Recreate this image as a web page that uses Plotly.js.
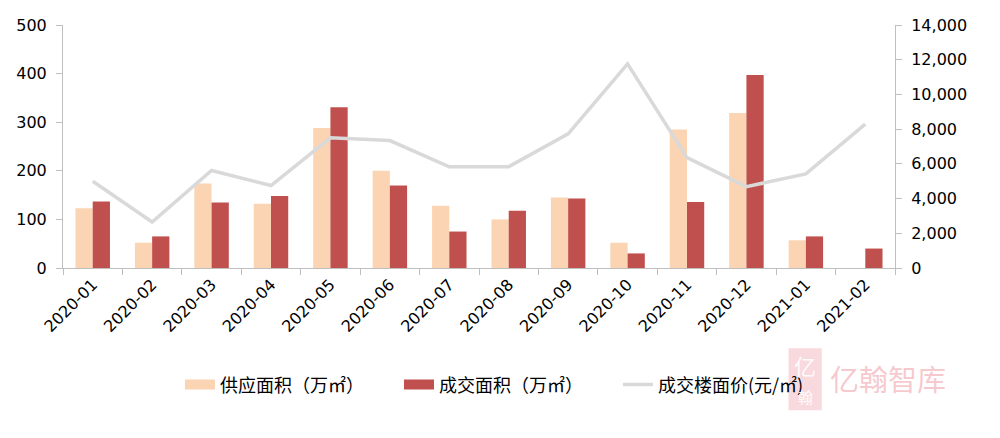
<!DOCTYPE html>
<html><head><meta charset="utf-8">
<script src="https://cdn.plot.ly/plotly-3.0.1.min.js"></script>
<style>html,body{margin:0;padding:0;background:#fff;}#chart{width:1000px;height:438px;}</style>
</head><body><div id="chart"></div>
<script>
const months = ['2020-01','2020-02','2020-03','2020-04','2020-05','2020-06','2020-07','2020-08','2020-09','2020-10','2020-11','2020-12','2021-01','2021-02'];
const supplyArea = [123, 52, 174, 132, 288, 200, 128, 100, 145, 52, 285, 319, 57, null];
const dealArea = [137, 65, 135, 148, 331, 170, 75, 118, 143, 30, 136, 397, 65, 40];
const dealPrice = [5000, 2650, 5620, 4750, 7500, 7340, 5830, 5840, 7730, 11760, 6360, 4690, 5420, 8290];
const leftTicks = [0, 100, 200, 300, 400, 500];
const rightTicks = [0, 2000, 4000, 6000, 8000, 10000, 12000, 14000];
const seriesNames = ['供应面积（万㎡）', '成交面积（万㎡）', '成交楼面价(元/㎡)'];
const supplyColor = '#FBD4B4', dealColor = '#C0504D', priceColor = '#D9D9D9';

const fontFam = 'DejaVu Sans, "Noto Sans CJK SC", sans-serif';
const cjk = '"Noto Sans CJK SC", sans-serif';
const empty = months.map(() => null);

const data = [
  {type:'bar', name:seriesNames[0], x:months, y:supplyArea, marker:{color:supplyColor}, showlegend:false},
  {type:'bar', name:seriesNames[1], x:months, y:dealArea, marker:{color:dealColor}, showlegend:false},
  {type:'scatter', mode:'lines', name:seriesNames[2], x:months, y:dealPrice, yaxis:'y2', line:{color:priceColor, width:3.5}, showlegend:false},
  // legend entries
  {type:'scatter', mode:'lines', name:seriesNames[0], x:months, y:empty, line:{color:supplyColor, width:11}, hoverinfo:'skip'},
  {type:'scatter', mode:'lines', name:seriesNames[1], x:months, y:empty, line:{color:dealColor, width:11}, hoverinfo:'skip'},
  {type:'scatter', mode:'lines', name:seriesNames[2], x:months, y:empty, yaxis:'y2', line:{color:priceColor, width:3.5}, hoverinfo:'skip'}
];

const layout = {
  width:1000, height:438,
  margin:{l:63, r:105, t:25, b:170},
  paper_bgcolor:'#fff', plot_bgcolor:'#fff',
  barmode:'group', bargap:0.42, bargroupgap:0,
  showlegend:true,
  legend:{orientation:'h', x:0.1406, xanchor:'left', y:-0.405, yanchor:'top', bgcolor:'rgba(0,0,0,0)', font:{family:cjk, size:18, color:'#000'}, traceorder:'normal', entrywidth:174, entrywidthmode:'pixels'},
  xaxis:{type:'category', tickangle:-45, tickson:'boundaries', ticks:'outside', ticklen:6, tickcolor:'#BFBFBF', showline:true, linecolor:'#BFBFBF', linewidth:1, showgrid:false, tickfont:{family:fontFam, size:16, color:'#000'}},
  yaxis:{range:[0,500], tickvals:leftTicks, ticks:'outside', ticklen:6, tickcolor:'#BFBFBF', showline:true, linecolor:'#BFBFBF', showgrid:false, zeroline:false, ticklabelstandoff:6, tickfont:{family:fontFam, size:16, color:'#000'}},
  yaxis2:{range:[0,14000], tickvals:rightTicks, tickformat:',d', overlaying:'y', side:'right', ticks:'outside', ticklen:6, tickcolor:'#BFBFBF', showline:true, linecolor:'#BFBFBF', showgrid:false, zeroline:false, ticklabelstandoff:6, tickfont:{family:fontFam, size:16, color:'#000'}},
  shapes:[
    {type:'rect', xref:'paper', yref:'paper', x0:0.872, x1:0.912, y0:-0.33, y1:-0.585, fillcolor:'rgba(240,170,180,0.45)', line:{width:0}, layer:'above'}
  ],
  annotations:[
    {xref:'paper', yref:'paper', x:0.919, y:-0.453, xanchor:'left', yanchor:'middle', text:'亿翰智库', showarrow:false, font:{family:cjk, size:29, color:'rgba(240,165,175,0.6)'}},
    {xref:'paper', yref:'paper', x:0.892, y:-0.40, xanchor:'center', yanchor:'middle', text:'亿', showarrow:false, font:{family:cjk, size:22, color:'rgba(255,255,255,0.9)'}},
    {xref:'paper', yref:'paper', x:0.892, y:-0.53, xanchor:'center', yanchor:'middle', text:'翰', showarrow:false, font:{family:cjk, size:15, color:'rgba(255,255,255,0.9)'}}
  ]
};

Plotly.newPlot('chart', data, layout, {displayModeBar:false, staticPlot:true});
</script></body></html>
